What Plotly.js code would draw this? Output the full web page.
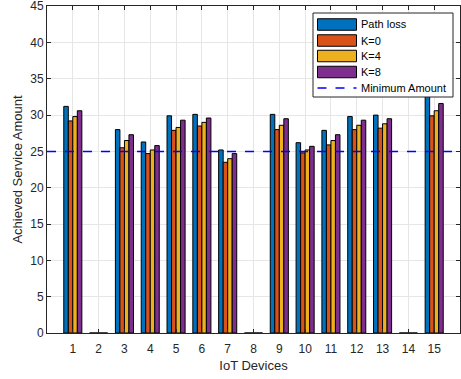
<!DOCTYPE html>
<html>
<head>
<meta charset="utf-8">
<script src="https://cdn.plot.ly/plotly-3.0.1.min.js"></script>
<style>html,body{margin:0;padding:0;background:#fff;}#chart{width:461px;height:379px;}</style>
</head>
<body>
<div id="chart"></div>
<script>
const devices = [1,2,3,4,5,6,7,8,9,10,11,12,13,14,15];
const pathLoss = [31.2,0,28.0,26.3,29.9,30.1,25.2,0,30.1,26.2,27.9,29.8,30.0,0,33.0];
const k0 =       [29.2,0,25.5,24.7,27.9,28.5,23.5,0,28.0,24.8,25.9,28.0,28.2,0,29.9];
const k4 =       [29.8,0,26.5,25.2,28.3,29.0,24.0,0,28.6,25.2,26.5,28.6,28.8,0,30.6];
const k8 =       [30.6,0,27.3,25.8,29.3,29.6,24.7,0,29.5,25.7,27.3,29.3,29.5,0,31.6];
const minimumAmount = 25;
const xRange = [0, 16];
const yTicks = [0,5,10,15,20,25,30,35,40,45];

const seriesNames = ['Path loss','K=0','K=4','K=8'];
const lineName = 'Minimum Amount';
const seriesData = [pathLoss,k0,k4,k8];
const colors = ['#0072BD','#D95319','#EDB120','#7E2F8E'];
const lineColor = '#0000FF';

const W = 461, H = 379;
const M = {l:47, r:1, t:6, b:46};
const pw = W - M.l - M.r, ph = H - M.t - M.b;
const px = x => (x - M.l) / pw;
const py = y => 1 - (y - M.t) / ph;

const traces = seriesData.map((d,i)=>({
  type:'bar', x:devices, y:d, name:seriesNames[i], showlegend:false,
  marker:{color:colors[i], line:{color:'#000000', width:1}}
}));
traces.push({
  type:'scatter', mode:'lines', x:xRange, y:[minimumAmount,minimumAmount],
  name:lineName, showlegend:false, line:{color:lineColor, width:1.5, dash:'dash'}
});

// hand-drawn legend (MATLAB style wide swatches)
const shapes = [];
const annotations = [];
const box = {x0:313, x1:453, y0:13, y1:97};
shapes.push({type:'rect', xref:'paper', yref:'paper',
  x0:px(box.x0), x1:px(box.x1), y0:py(box.y1), y1:py(box.y0),
  fillcolor:'#ffffff', line:{color:'#262626', width:1}});
const rowY = [24.5, 40.5, 56, 72, 88];
const sw = {x0:317.5, x1:356.5, h:11.5};
const allNames = seriesNames.concat([lineName]);
allNames.forEach((nm, i) => {
  if (i < seriesNames.length) {
    shapes.push({type:'rect', xref:'paper', yref:'paper',
      x0:px(sw.x0), x1:px(sw.x1), y0:py(rowY[i]+sw.h/2), y1:py(rowY[i]-sw.h/2),
      fillcolor:colors[i], line:{color:'#000000', width:1}});
  } else {
    shapes.push({type:'line', xref:'paper', yref:'paper',
      x0:px(sw.x0), x1:px(sw.x1), y0:py(rowY[i]), y1:py(rowY[i]),
      line:{color:lineColor, width:1.5, dash:'dash'}});
  }
  annotations.push({xref:'paper', yref:'paper', x:px(359), y:py(rowY[i]),
    xanchor:'left', yanchor:'middle', showarrow:false, text:nm,
    font:{family:'Liberation Sans, Arial, sans-serif', size:11, color:'#000000'}});
});

const axisCommon = {
  showline:true, linecolor:'#262626', linewidth:1, mirror:'ticks',
  ticks:'inside', ticklen:4, tickcolor:'#262626',
  showgrid:true, gridcolor:'#E6E6E6', gridwidth:1, zeroline:false,
  ticklabeloverflow:'allow',
  tickfont:{family:'Liberation Sans, Arial, sans-serif', size:12, color:'#262626'}
};

const layout = {
  width:W, height:H,
  margin:M,
  paper_bgcolor:'#ffffff', plot_bgcolor:'#ffffff',
  font:{family:'Liberation Sans, Arial, sans-serif', color:'#262626'},
  barmode:'group', bargap:0.3, bargroupgap:0,
  showlegend:false,
  shapes:shapes, annotations:annotations,
  xaxis:Object.assign({}, axisCommon, {
    range:xRange, tickmode:'array', tickvals:devices, ticktext:devices.map(String),
    ticklabelstandoff:5,
    title:{text:'IoT Devices', font:{size:13, color:'#262626'}, standoff:5}
  }),
  yaxis:Object.assign({}, axisCommon, {
    range:[0,45.02], tickmode:'array', tickvals:yTicks,
    title:{text:'Achieved Service Amount', font:{size:13, color:'#262626'}, standoff:4}
  })
};

Plotly.newPlot('chart', traces, layout, {displayModeBar:false, staticPlot:true});
</script>
</body>
</html>
